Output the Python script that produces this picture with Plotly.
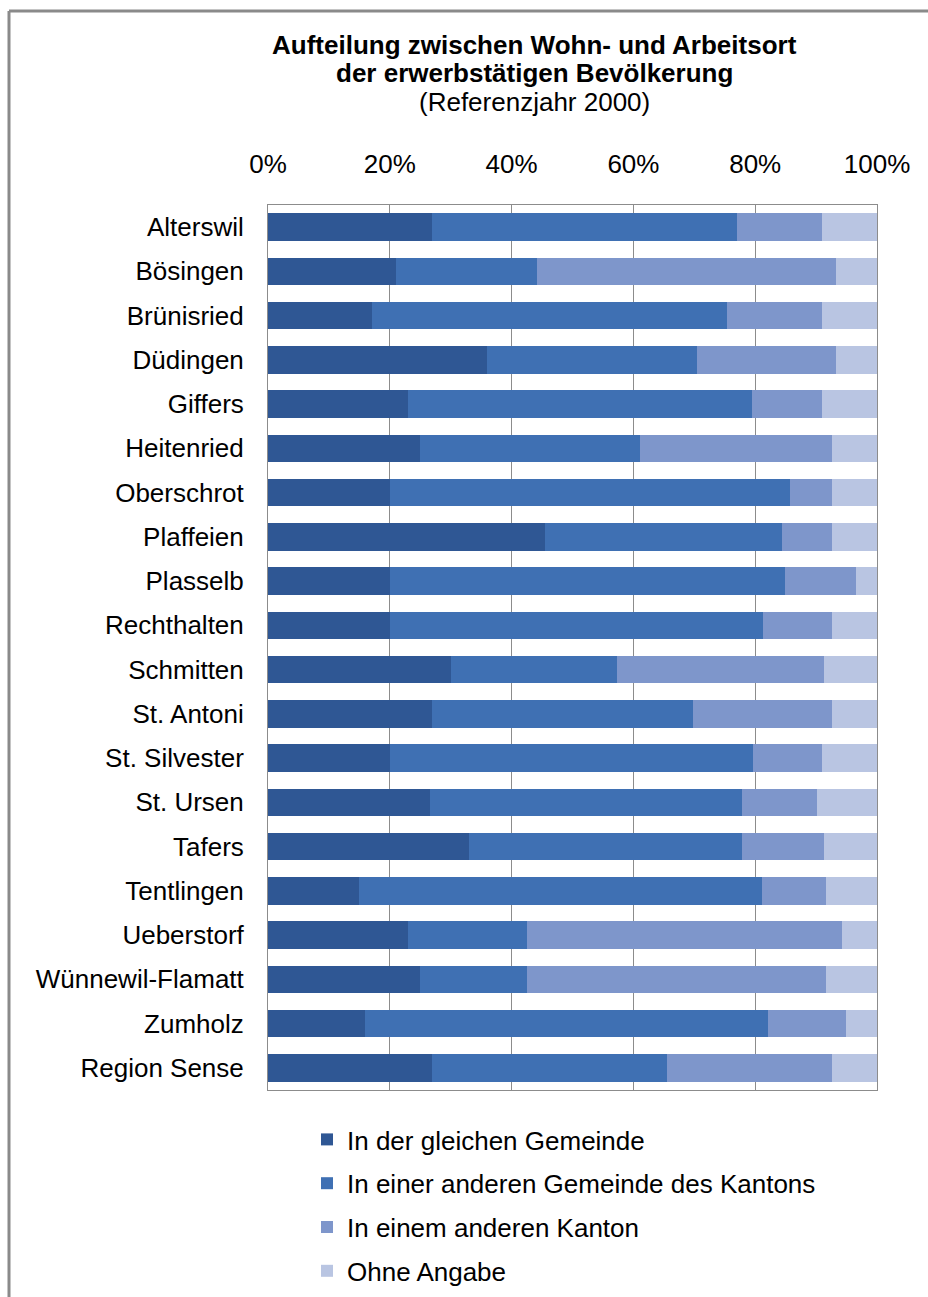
import plotly.graph_objects as go

# Municipalities of the Sense district (top to bottom)
gemeinden = [
    "Alterswil", "Bösingen", "Brünisried", "Düdingen", "Giffers", "Heitenried",
    "Oberschrot", "Plaffeien", "Plasselb", "Rechthalten", "Schmitten",
    "St. Antoni", "St. Silvester", "St. Ursen", "Tafers", "Tentlingen",
    "Ueberstorf", "Wünnewil-Flamatt", "Zumholz", "Region Sense",
]

# Shares of the working population by place of work (percent)
gleiche_gemeinde = [27.0, 21.0, 17.0, 36.0, 23.0, 25.0, 20.0, 45.5, 20.0, 20.0,
                    30.0, 27.0, 20.0, 26.6, 33.0, 15.0, 23.0, 25.0, 16.0, 27.0]
andere_gemeinde = [50.0, 23.2, 58.4, 34.4, 56.5, 36.1, 65.7, 38.9, 64.9, 61.3,
                   27.3, 42.8, 59.6, 51.2, 44.8, 66.1, 19.5, 17.5, 66.1, 38.5]
anderer_kanton = [14.0, 49.1, 15.6, 22.9, 11.5, 31.5, 6.9, 8.2, 11.7, 11.3,
                  34.0, 22.8, 11.4, 12.3, 13.5, 10.5, 51.8, 49.1, 12.8, 27.1]
ohne_angabe = [9.0, 6.7, 9.0, 6.7, 9.0, 7.4, 7.4, 7.4, 3.4, 7.4,
               8.7, 7.4, 9.0, 9.9, 8.7, 8.4, 5.7, 8.4, 5.1, 7.4]

series = [
    ("In der gleichen Gemeinde", gleiche_gemeinde, "#2f5794"),
    ("In einer anderen Gemeinde des Kantons", andere_gemeinde, "#3f70b3"),
    ("In einem anderen Kanton", anderer_kanton, "#7e96cb"),
    ("Ohne Angabe", ohne_angabe, "#b9c5e2"),
]

FONT = "Liberation Sans, Arial, sans-serif"
FS = 26

fig = go.Figure()
for i, (name, vals, col) in enumerate(series):
    fig.add_trace(go.Bar(
        y=gemeinden, x=vals, name=name, orientation="h",
        marker=dict(color=col, line=dict(width=0)),
        legendgroup=f"g{i}",
        hoverinfo="name+x",
    ))

W, H = 928, 1297
L, R, T, B = 268, 51, 205, 207
pw, ph = W - L - R, H - T - B


def px_x(px):
    return (px - L) / pw


def px_y(py):
    return (H - B - py) / ph


titles = [
    ("<b>Aufteilung zwischen Wohn- und Arbeitsort</b>", 45),
    ("<b>der erwerbstätigen Bevölkerung</b>", 73),
    ("(Referenzjahr 2000)", 102),
]
annotations = [
    dict(text=t, x=px_x(534), y=px_y(yy), xref="paper", yref="paper",
         xanchor="center", yanchor="middle", showarrow=False,
         font=dict(size=FS, color="#000000", family=FONT))
    for t, yy in titles
]

# Outer chart frame (left and top edges)
frame = dict(color="#8a8a8a", width=3)
shapes = [
    dict(type="line", xref="paper", yref="paper",
         x0=px_x(9), x1=px_x(940), y0=px_y(11), y1=px_y(11), line=frame),
    dict(type="line", xref="paper", yref="paper",
         x0=px_x(9), x1=px_x(9), y0=px_y(11), y1=px_y(1310), line=frame),
]

fig.update_layout(
    width=W, height=H,
    margin=dict(l=L, r=R, t=T, b=B, pad=0, autoexpand=False),
    barmode="stack", bargap=0.38,
    paper_bgcolor="white", plot_bgcolor="white",
    font=dict(family=FONT, size=FS, color="#000000"),
    showlegend=True,
    legend=dict(
        orientation="v", traceorder="grouped", tracegroupgap=7,
        x=px_x(307), y=px_y(1116), xanchor="left", yanchor="top",
        font=dict(size=FS, family=FONT, color="#000000"),
        bgcolor="rgba(0,0,0,0)",
    ),
    xaxis=dict(
        side="top", range=[0, 100], dtick=20, tick0=0, ticksuffix="%",
        showgrid=True, gridcolor="#8c8c8c", gridwidth=1,
        showline=True, linecolor="#8c8c8c", linewidth=1, mirror=True,
        zeroline=False, ticks="", ticklabelstandoff=21, automargin=False,
        tickangle=0,
        tickfont=dict(size=FS, family=FONT, color="#000000"),
        fixedrange=True,
    ),
    yaxis=dict(
        autorange="reversed", showgrid=False,
        showline=True, linecolor="#8c8c8c", linewidth=1, mirror=True,
        ticks="", ticklabelstandoff=18, automargin=False,
        tickfont=dict(size=FS, family=FONT, color="#000000"),
        fixedrange=True,
    ),
    annotations=annotations,
    shapes=shapes,
)

fig.write_html("out.html")
